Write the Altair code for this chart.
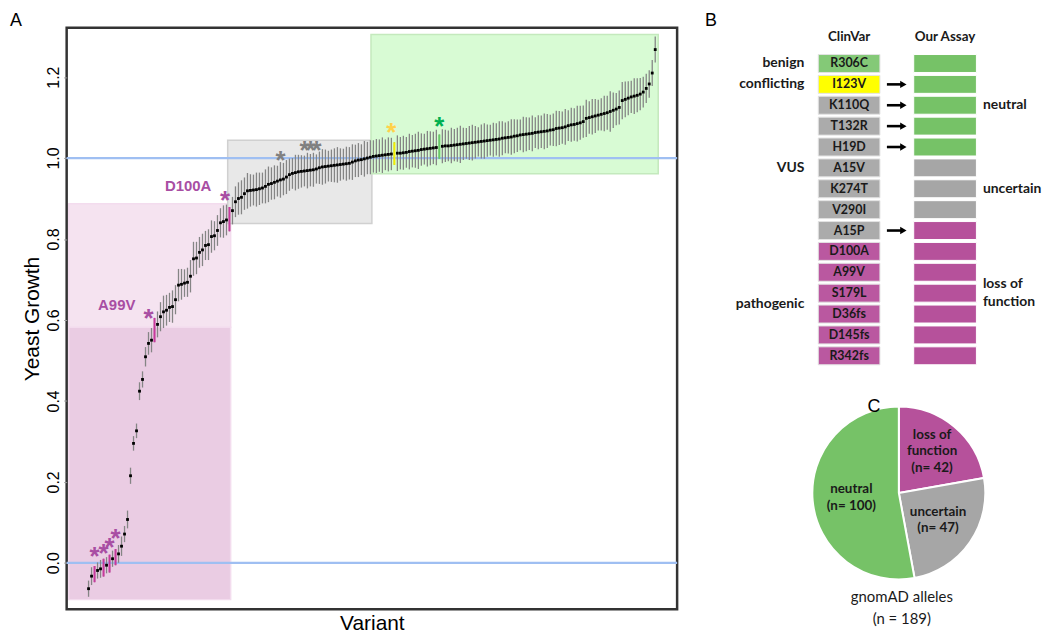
import altair as alt
import pandas as pd

# ---------------- Panel A data ----------------
growth_lof = [
    -0.064, -0.033, -0.028, -0.019, -0.015, -0.012, -0.006, -0.002, 0.010, 0.014, 0.022, 0.041, 0.071, 0.107,
    0.215, 0.295, 0.326, 0.424, 0.453, 0.509, 0.542, 0.550, 0.575, 0.589, 0.608, 0.620, 0.624, 0.631, 0.633,
    0.650, 0.686, 0.688, 0.691, 0.693, 0.708, 0.751, 0.753, 0.767, 0.773, 0.784, 0.786, 0.806, 0.808,
    0.821, 0.840, 0.843, 0.847, 0.849,
]
growth_uncertain = [
    0.870, 0.892, 0.900, 0.903, 0.912, 0.919, 0.920, 0.921, 0.922, 0.924,
    0.926, 0.930, 0.935, 0.937, 0.940, 0.943, 0.946, 0.948, 0.953, 0.959,
    0.962, 0.964, 0.966, 0.967, 0.968, 0.969, 0.970, 0.971, 0.973, 0.976,
    0.978, 0.979, 0.980, 0.981, 0.982, 0.983, 0.984, 0.985, 0.986, 0.987,
    0.990, 0.993, 0.995, 0.996, 0.998, 1.000, 1.002, 1.004,
]
growth_neutral = [
    1.005, 1.006, 1.007, 1.008, 1.009, 1.010, 1.011, 1.012, 1.012, 1.013,
    1.014, 1.016, 1.017, 1.018, 1.019, 1.021, 1.022, 1.023, 1.024, 1.025,
    1.026, 1.028, 1.029, 1.030, 1.030, 1.031, 1.032, 1.033, 1.034, 1.035,
    1.036, 1.037, 1.038, 1.039, 1.040, 1.041, 1.042, 1.043, 1.044, 1.045,
    1.046, 1.047, 1.049, 1.050, 1.051, 1.052, 1.054, 1.055, 1.057, 1.058,
    1.059, 1.060, 1.061, 1.063, 1.064, 1.065, 1.066, 1.067, 1.069, 1.070,
    1.073, 1.074, 1.075, 1.077, 1.080, 1.082, 1.083, 1.085, 1.087, 1.090,
    1.098, 1.100, 1.102, 1.104, 1.106, 1.108, 1.110, 1.112, 1.115, 1.118,
    1.121, 1.125, 1.142, 1.145, 1.148, 1.151, 1.153, 1.155, 1.158, 1.163,
    1.172, 1.183, 1.210, 1.268,
]
err_lof = [
    0.020, 0.022, 0.020, 0.020, 0.022, 0.022, 0.020, 0.022, 0.020, 0.020, 0.022, 0.024, 0.020, 0.022,
    0.020, 0.018, 0.018, 0.022, 0.020, 0.024, 0.028, 0.030, 0.030, 0.032, 0.036, 0.040, 0.038, 0.036, 0.040,
    0.036, 0.040, 0.038, 0.034, 0.036, 0.040, 0.042, 0.040, 0.038, 0.040, 0.036, 0.038, 0.040, 0.036,
    0.038, 0.036, 0.040, 0.038, 0.030,
]
err_uncertain = [
    0.034, 0.038, 0.040, 0.042, 0.040, 0.044, 0.040, 0.038, 0.042, 0.040,
    0.038, 0.042, 0.044, 0.040, 0.042, 0.038, 0.044, 0.040, 0.042, 0.040,
    0.038, 0.044, 0.042, 0.040, 0.038, 0.044, 0.040, 0.042, 0.036, 0.040,
    0.044, 0.042, 0.038, 0.040, 0.042, 0.044, 0.040, 0.038, 0.042, 0.040,
    0.044, 0.040, 0.042, 0.038, 0.044, 0.040, 0.042, 0.040,
]
err_neutral = [
    0.042, 0.040, 0.044, 0.038, 0.042, 0.040, 0.028, 0.044, 0.040, 0.042,
    0.038, 0.044, 0.040, 0.042, 0.046, 0.040, 0.038, 0.044, 0.042, 0.040,
    0.044, 0.030, 0.042, 0.040, 0.038, 0.044, 0.040, 0.042, 0.046, 0.040,
    0.038, 0.042, 0.044, 0.040, 0.036, 0.042, 0.044, 0.040, 0.038, 0.042,
    0.040, 0.044, 0.042, 0.038, 0.040, 0.044, 0.042, 0.040, 0.038, 0.044,
    0.042, 0.040, 0.044, 0.038, 0.042, 0.040, 0.044, 0.042, 0.038, 0.040,
    0.044, 0.042, 0.040, 0.044, 0.038, 0.042, 0.040, 0.044, 0.042, 0.040,
    0.046, 0.040, 0.044, 0.042, 0.038, 0.040, 0.044, 0.042, 0.050, 0.044,
    0.040, 0.042, 0.046, 0.044, 0.042, 0.040, 0.044, 0.042, 0.040, 0.038,
    0.036, 0.034, 0.032, 0.032,
]

hl_index = [2, 5, 7, 9, 22, 47, 102, 117]
hl_color = ["#c8389c", "#c8389c", "#c8389c", "#c8389c", "#c8389c", "#c8389c", "#f2ee00", "#66cc66"]

star_index = [2, 5, 7, 9, 20, 45.5, 64, 72, 74, 76, 101, 117]
star_value = [0.020, 0.026, 0.042, 0.063, 0.606, 0.899, 0.997, 1.021, 1.021, 1.021, 1.066, 1.081]
star_color = ["#a84ea3"] * 6 + ["#808080"] * 4 + ["#ffd24a", "#00b050"]

label_text = ["D100A", "A99V"]
label_index = [33.2, 9.4]
label_value = [0.931, 0.637]

box_x1 = [-6.6, -6.6, 46.4, 94.2]
box_x2 = [47.4, 47.4, 94.5, 190.0]
box_y1 = [-0.091, 0.582, 0.838, 0.961]
box_y2 = [0.582, 0.887, 1.044, 1.305]
box_fill = ["#eacce3", "#f5e3f0", "#e8e8e8", "#d8fbd4"]
box_stroke = ["#f3dcee", "#f3dcee", "#d0d0d0", "#c4e9bd"]

ref_lines = [0.0, 1.0]

# ---------------- Panel B data ----------------
clinvar_variant = ["R306C", "I123V", "K110Q", "T132R", "H19D", "A15V", "K274T", "V290I",
                   "A15P", "D100A", "A99V", "S179L", "D36fs", "D145fs", "R342fs"]
clinvar_class = ["benign", "conflicting", "VUS", "VUS", "VUS", "VUS", "VUS", "VUS", "VUS",
                 "pathogenic", "pathogenic", "pathogenic", "pathogenic", "pathogenic", "pathogenic"]
assay_class = ["neutral"] * 5 + ["uncertain"] * 3 + ["loss of function"] * 7
arrow_rows = [1, 2, 3, 4, 8]
left_label = ["benign", "conflicting", "VUS", "pathogenic"]
left_label_row = [0, 1, 5, 11.5]
right_label = ["neutral", "uncertain", "loss of\nfunction"]
right_label_row = [2, 6, 11]
right_label_lines = [1, 1, 2]
headers = ["ClinVar", "Our Assay"]

clin_colors = {"benign": "#84c977", "conflicting": "#ffff00", "VUS": "#ababab", "pathogenic": "#ba58a0"}
assay_colors = {"neutral": "#76c267", "uncertain": "#a6a6a6", "loss of function": "#b6519b"}

# ---------------- Panel C data ----------------
pie_class = ["loss of function", "uncertain", "neutral"]
pie_count = [42, 47, 100]
pie_text = ["loss of\nfunction\n(n= 42)", "uncertain\n(n= 47)", "neutral\n(n= 100)"]
pie_total_text = "gnomAD alleles\n(n = 189)"

# =============== Panel A ===============
growth = growth_lof + growth_uncertain + growth_neutral
err = err_lof + err_uncertain + err_neutral
dfa = pd.DataFrame({"i": list(range(len(growth))), "g": growth, "e": err})
dfa["lo"] = dfa["g"] - dfa["e"]
dfa["hi"] = dfa["g"] + dfa["e"]
dfa["hl"] = dfa["i"].isin(hl_index)

dfh = dfa[dfa["hl"]].copy()
dfh["c"] = [hl_color[hl_index.index(k)] for k in dfh["i"]]

dfs = pd.DataFrame({"i": star_index, "v": star_value, "c": star_color, "t": ["*"] * len(star_index)})
dfl = pd.DataFrame({"i": label_index, "v": label_value, "t": label_text})
dfb = pd.DataFrame({"x1": box_x1, "x2": box_x2, "y1": box_y1, "y2": box_y2, "f": box_fill, "s": box_stroke})
dfr = pd.DataFrame({"v": ref_lines})

FONT_A = "Liberation Sans"
xs = alt.Scale(domain=[-7.3, 196.3], nice=False, zero=False)
ys = alt.Scale(domain=[-0.115, 1.322], nice=False, zero=False)
x_axis = alt.Axis(ticks=False, labels=False, domain=False, grid=False, title="Variant",
                  titleFontSize=21, titleFontWeight="normal", titleFont=FONT_A, titleColor="black",
                  titlePadding=3)
y_axis = alt.Axis(values=[0, 0.2, 0.4, 0.6, 0.8, 1.0, 1.2], format=".1f", labelAngle=270,
                  labelAlign="center", labelBaseline="bottom", tickSize=3, tickColor="#9a9a9a",
                  domain=False, grid=False, labelFontSize=16, labelFont=FONT_A, labelColor="black",
                  labelPadding=2, title="Yeast Growth", titleFontSize=21, titleFontWeight="normal",
                  titleFont=FONT_A, titleColor="black", titlePadding=3)


def X(f, **kw):
    return alt.X(f, type="quantitative", scale=xs, axis=x_axis, **kw)


def Y(f, **kw):
    return alt.Y(f, type="quantitative", scale=ys, axis=y_axis, **kw)


boxes = alt.Chart(dfb).mark_rect(strokeWidth=1.5).encode(
    x=X("x1"), x2="x2", y=Y("y1"), y2="y2",
    fill=alt.Fill("f:N", scale=None), stroke=alt.Stroke("s:N", scale=None))
reflines = alt.Chart(dfr).mark_rule(color="#9fbff2", strokeWidth=2.2).encode(y=Y("v"))
bars = alt.Chart(dfa).mark_rule(color="#858585", strokeWidth=1.3).encode(x=X("i"), y=Y("lo"), y2="hi")
pts = alt.Chart(dfa).transform_filter("!datum.hl").mark_point(
    shape="square", filled=True, size=8, color="black", opacity=1).encode(x=X("i"), y=Y("g"))
hbars = alt.Chart(dfh).mark_rule(strokeWidth=2).encode(
    x=X("i"), y=Y("lo"), y2="hi", color=alt.Color("c:N", scale=None))
stars = alt.Chart(dfs).mark_text(fontSize=26, fontWeight="bold", font=FONT_A, baseline="alphabetic",
                                 dy=10).encode(
    x=X("i"), y=Y("v"), text="t:N", color=alt.Color("c:N", scale=None))
labels = alt.Chart(dfl).mark_text(fontSize=15, fontWeight="bold", font=FONT_A, color="#a84ea3").encode(
    x=X("i"), y=Y("v"), text="t:N")
panel_a_letter = alt.Chart(pd.DataFrame({"t": ["A"]})).mark_text(
    fontSize=18, font=FONT_A, align="left", baseline="top", color="black").encode(
    text="t:N", x=alt.value(-57), y=alt.value(-16))

panel_a = alt.layer(boxes, reflines, bars, pts, hbars, stars, labels, panel_a_letter).properties(
    width=614, height=585, view=alt.ViewBackground(stroke="#333333", strokeWidth=2.5))

# =============== Panel B ===============
FONT_B = "Lato"
nrow = len(clinvar_variant)
dfc = pd.DataFrame({"row": list(range(nrow)), "v": clinvar_variant, "cc": clinvar_class, "ac": assay_class})
dfc["clin_col"] = [clin_colors[c] for c in dfc["cc"]]
dfc["assay_col"] = [assay_colors[c] for c in dfc["ac"]]
dfc["y1"] = dfc["row"] - 0.43
dfc["y2"] = dfc["row"] + 0.43
dfc["cx1"] = 0.0
dfc["cx2"] = 1.0
dfc["cxm"] = 0.5
dfc["ax1"] = 1.548
dfc["ax2"] = 2.565

bxs = alt.Scale(domain=[-2.048, 3.516], nice=False, zero=False)
bys = alt.Scale(domain=[-1.714, 14.905], nice=False, zero=False, reverse=True)


def BX(f):
    return alt.X(f, type="quantitative", scale=bxs, axis=None)


def BY(f):
    return alt.Y(f, type="quantitative", scale=bys, axis=None)


clin_rect = alt.Chart(dfc).mark_rect(stroke="#e3e3e3", strokeWidth=1).encode(
    x=BX("cx1"), x2="cx2", y=BY("y1"), y2="y2", fill=alt.Fill("clin_col:N", scale=None))
assay_rect = alt.Chart(dfc).mark_rect(stroke="#ffffff", strokeWidth=1).encode(
    x=BX("ax1"), x2="ax2", y=BY("y1"), y2="y2", fill=alt.Fill("assay_col:N", scale=None))
clin_text = alt.Chart(dfc).mark_text(font=FONT_B, fontWeight="bold", fontSize=12.5, color="#1a1a1a").encode(
    x=BX("cxm"), y=BY("row"), text="v:N")

dfarrow = pd.DataFrame({"row": arrow_rows})
dfarrow["x1"] = 1.113
dfarrow["x2"] = 1.36
dfarrow["xh"] = 1.38
arrow_shaft = alt.Chart(dfarrow).mark_rule(color="black", strokeWidth=2.6).encode(
    x=BX("x1"), x2="x2", y=BY("row"))
arrow_head = alt.Chart(dfarrow).mark_point(shape="triangle-right", filled=True, size=55, color="black",
                                           opacity=1).encode(x=BX("xh"), y=BY("row"))

dfll = pd.DataFrame({"t": left_label, "row": left_label_row})
dfll["x"] = -0.226
left_text = alt.Chart(dfll).mark_text(font=FONT_B, fontWeight="bold", fontSize=14, align="right",
                                      color="#1a1a1a").encode(x=BX("x"), y=BY("row"), text="t:N")
dfrl = pd.DataFrame({"t": right_label, "row": right_label_row, "n": right_label_lines})
dfrl["x"] = 2.67
right_text_1 = alt.Chart(dfrl[dfrl["n"] == 1]).mark_text(
    font=FONT_B, fontWeight="bold", fontSize=14, align="left", color="#1a1a1a").encode(
    x=BX("x"), y=BY("row"), text="t:N")
right_text_2 = alt.Chart(dfrl[dfrl["n"] == 2]).mark_text(
    font=FONT_B, fontWeight="bold", fontSize=14, align="left", color="#1a1a1a",
    lineBreak="\n", lineHeight=18, dy=-9).encode(x=BX("x"), y=BY("row"), text="t:N")
dfhd = pd.DataFrame({"t": headers, "x": [0.5, 2.056], "row": [-1.29, -1.29]})
head_text = alt.Chart(dfhd).mark_text(font=FONT_B, fontWeight="bold", fontSize=13.5, color="#1a1a1a").encode(
    x=BX("x"), y=BY("row"), text="t:N")
panel_b_letter = alt.Chart(pd.DataFrame({"t": ["B"]})).mark_text(
    fontSize=18, font=FONT_A, align="left", baseline="top", color="black").encode(
    text="t:N", x=alt.value(13), y=alt.value(-16))

panel_b = alt.layer(clin_rect, assay_rect, clin_text, arrow_shaft, arrow_head, left_text, right_text_1,
                    right_text_2, head_text, panel_b_letter).properties(width=345, height=349)

# =============== Panel C ===============
dfp = pd.DataFrame({"k": pie_class, "n": pie_count, "t": pie_text, "o": [0, 1, 2]})
dfp["c"] = [assay_colors[k] for k in dfp["k"]]
dfp["lines"] = [t.count("\n") + 1 for t in dfp["t"]]
dfp["t3"] = [t if m == 3 else "" for t, m in zip(dfp["t"], dfp["lines"])]
dfp["t2"] = [t if m == 2 else "" for t, m in zip(dfp["t"], dfp["lines"])]
CX, CY = 208, 109
pie = alt.Chart(dfp).mark_arc(radius=87, stroke="white", strokeWidth=2).encode(
    theta=alt.Theta("n:Q", stack=True), order=alt.Order("o:Q"),
    fill=alt.Fill("c:N", scale=None), x=alt.value(CX), y=alt.value(CY))
LH = 16.7
pie_lbl3 = alt.Chart(dfp).mark_text(radius=52, font=FONT_B, fontWeight="bold", fontSize=13.5,
                                    color="#1a1a1a", lineBreak="\n", lineHeight=LH, dy=-LH - 2).encode(
    theta=alt.Theta("n:Q", stack=True), order=alt.Order("o:Q"), text="t3:N",
    x=alt.value(CX), y=alt.value(CY))
pie_lbl2 = alt.Chart(dfp).mark_text(radius=48, font=FONT_B, fontWeight="bold", fontSize=13.5,
                                    color="#1a1a1a", lineBreak="\n", lineHeight=LH, dy=-LH / 2).encode(
    theta=alt.Theta("n:Q", stack=True), order=alt.Order("o:Q"), text="t2:N",
    x=alt.value(CX), y=alt.value(CY))
total_lbl = alt.Chart(pd.DataFrame({"t": [pie_total_text]})).mark_text(
    font=FONT_B, fontSize=15, color="#1a1a1a", lineBreak="\n", lineHeight=22).encode(
    text="t:N", x=alt.value(211), y=alt.value(214))
panel_c_letter = alt.Chart(pd.DataFrame({"t": ["C"]})).mark_text(
    fontSize=18, font=FONT_A, color="black").encode(text="t:N", x=alt.value(183), y=alt.value(23))

panel_c = alt.layer(pie, pie_lbl3, pie_lbl2, total_lbl, panel_c_letter).properties(width=345, height=236)

chart = alt.hconcat(
    panel_a,
    alt.vconcat(panel_b, panel_c, spacing=10),
    spacing=12,
).properties(
    padding={"left": 0, "top": 0, "right": 0, "bottom": 0}
).configure_view(strokeWidth=0)

chart.save("out.html", embed_options={"renderer": "svg", "actions": False})
